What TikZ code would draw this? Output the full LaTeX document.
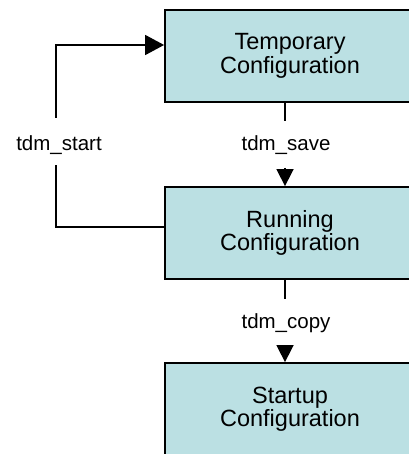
\documentclass[tikz,border=0pt]{standalone}
\usepackage{fontspec}
\setmainfont{Liberation Sans}
\usetikzlibrary{arrows.meta}
\definecolor{boxfill}{RGB}{187,224,227}
\tikzset{
  cfgbox/.style={draw=black, line width=1.8pt, fill=boxfill, minimum width=250pt, minimum height=92pt, inner sep=0pt, align=center, font=\fontsize{23.5}{23.5}\selectfont},
  lbl/.style={inner sep=0pt, font=\fontsize{20.5}{20.5}\selectfont},
  conn/.style={line width=1.6pt},
  tipv/.style={-{Triangle[length=17pt,width=17pt]}},
  tiph/.style={-{Triangle[length=19pt,width=20pt]}}
}
\begin{document}
\begin{tikzpicture}[x=1pt,y=-1pt]
\useasboundingbox (0,0) rectangle (408,454);
\node[cfgbox] (temp) at (290,56) {Temporary\\Configuration};
\node[cfgbox] (run) at (290,233) {Running\\Configuration};
\node[cfgbox] (start) at (290,409) {Startup\\Configuration};
\node[lbl] (lstart) at (59,145) {tdm\_start};
\node[lbl] (lsave) at (286,145) {tdm\_save};
\node[lbl] (lcopy) at (286,323) {tdm\_copy};
\coordinate (a1) at (56,227);
\coordinate (a2) at (56,165);
\coordinate (a3) at (56,118);
\coordinate (a4) at (56,45);
\coordinate (s1) at (285,121);
\coordinate (s2) at (285,168);
\coordinate (c1) at (285,299);
\coordinate (c2) at (285,345);
\draw[conn] (run.west |- a1) -- (a1) -- (a2);
\draw[conn,tiph] (a3) -- (a4) -- (temp.west |- a4);
\draw[conn] (temp.south -| s1) -- (s1);
\draw[conn,tipv] (s2) -- (run.north -| s2);
\draw[conn] (run.south -| c1) -- (c1);
\draw[conn,tipv] (c2) -- (start.north -| c2);
\end{tikzpicture}
\end{document}
